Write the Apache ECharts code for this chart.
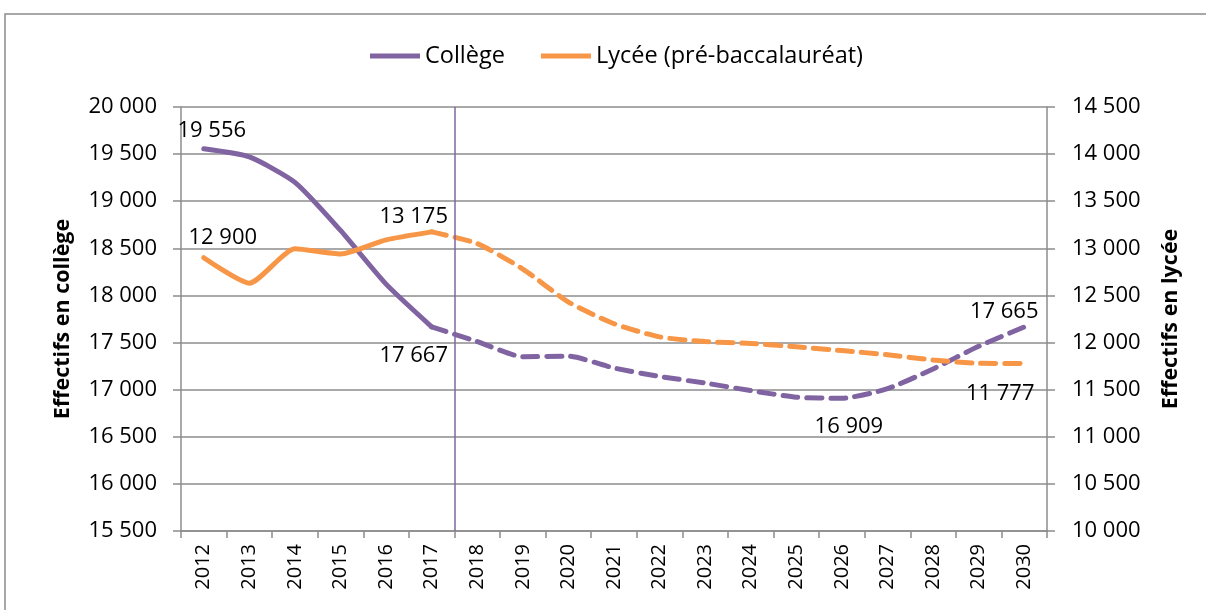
<!DOCTYPE html>
<html>
<head>
<meta charset="utf-8">
<script src="https://cdn.jsdelivr.net/npm/echarts@6/dist/echarts.min.js"></script>
<style>
  html, body { margin: 0; padding: 0; background: #fff; }
  #chart { width: 1206px; height: 610px; }
</style>
</head>
<body>
<div id="chart"></div>
<script>
const years = ['2012','2013','2014','2015','2016','2017','2018','2019','2020','2021',
  '2022','2023','2024','2025','2026','2027','2028','2029','2030']

// effectifs (observed to 2017, projected after)
const college = [19556, 19470, 19200, 18690, 18120, 17667, 17510, 17350, 17355, 17230,
  17140, 17070, 16990, 16920, 16909, 17010, 17220, 17460, 17665]
const lycee = [12900, 12630, 12995, 12940, 13090, 13175, 13050, 12780, 12430, 12200,
  12060, 12010, 11990, 11955, 11915, 11870, 11815, 11780, 11777]

const lastObserved = 5 // index of 2017
const splitPos = 6 // boundary between 2017 and 2018
const labelled = { college: [0, 5, 14, 18], lycee: [0, 5, 18] }

const PURPLE = '#8064A2'
const ORANGE = '#F79646'
const FONT = '"Open Sans", "Liberation Sans", sans-serif'

// per-point label offsets (px)
const labelOffsets = {
  college: { 0: [8, -2], 5: [-18, 13], 14: [7, 12], 18: [-20, 1] },
  lycee: { 0: [19, -4], 5: [-18, 1], 18: [-24, 14] },
}
const labelPos = {
  college: { 0: 'top', 5: 'bottom', 14: 'bottom', 18: 'top' },
  lycee: { 0: 'top', 5: 'top', 18: 'bottom' },
}

function fmt(v) {
  return String(v).replace(/\B(?=(\d{3})+(?!\d))/g, ' ')
}

function pointData(values, key, observed) {
  return values.map((v, i) => {
    const keep = observed ? i <= lastObserved : i >= lastObserved
    if (!keep) return null
    if (!labelled[key].includes(i)) return v
    if (!observed && i === lastObserved) return v
    return {
      value: v,
      label: {
        show: true,
        position: labelPos[key][i],
        offset: labelOffsets[key][i],
        formatter: (p) => fmt(p.value),
        color: '#000',
        fontSize: 22,
        fontFamily: FONT,
      },
    }
  })
}

function lineSeries(name, values, key, color, yIndex, observed) {
  return {
    name,
    type: 'line',
    yAxisIndex: yIndex,
    data: pointData(values, key, observed),
    symbol: 'circle',
    symbolSize: 0,
    showSymbol: true,
    smooth: 0.2,
    connectNulls: false,
    lineStyle: { color, width: 5, type: observed ? 'solid' : [15, 9], cap: 'round' },
    itemStyle: { color },
    z: 3,
  }
}

const chart = echarts.init(document.getElementById('chart'))

const axisGrey = '#8c8c8c'

chart.setOption({
  animation: false,
  graphic: [
    {
      type: 'rect',
      shape: { x: 5, y: 14, width: 1400, height: 800 },
      style: { fill: 'none', stroke: axisGrey, lineWidth: 1.5 },
      silent: true,
    },
  ],
  legend: {
    data: ['Collège', 'Lycée (pré-baccalauréat)'],
    top: 39,
    left: 365,
    itemWidth: 50,
    itemHeight: 5,
    itemGap: 36,
    icon: 'rect',
    textStyle: { fontSize: 23.5, color: '#000', fontFamily: FONT },
  },
  grid: { left: 181, right: 159, top: 107, bottom: 79 },
  xAxis: [
    {
      type: 'category',
      data: years,
      boundaryGap: true,
      axisLine: { lineStyle: { color: axisGrey, width: 1.5 } },
      axisTick: { show: true, length: 7, lineStyle: { color: axisGrey, width: 1.5 } },
      axisLabel: { rotate: 90, color: '#000', fontSize: 20, fontFamily: FONT, margin: 13 },
    },
    {
      type: 'value',
      min: 0,
      max: years.length,
      show: false,
    },
  ],
  yAxis: [
    {
      type: 'value',
      min: 15500,
      max: 20000,
      interval: 500,
      name: 'Effectifs en collège',
      nameLocation: 'middle',
      nameGap: 107,
      nameTextStyle: { fontSize: 21.5, fontWeight: 'bold', color: '#000', fontFamily: FONT },
      axisLine: { show: true, lineStyle: { color: axisGrey, width: 1.5 } },
      axisTick: { show: true, length: 8, lineStyle: { color: axisGrey, width: 1.5 } },
      axisLabel: { color: '#000', fontSize: 22, fontFamily: FONT, formatter: fmt, margin: 24 },
      splitLine: { lineStyle: { color: axisGrey, width: 1.5 } },
    },
    {
      type: 'value',
      min: 10000,
      max: 14500,
      interval: 500,
      position: 'right',
      name: 'Effectifs en lycée',
      nameLocation: 'middle',
      nameRotate: 90,
      nameGap: 113,
      nameTextStyle: { fontSize: 21.5, fontWeight: 'bold', color: '#000', fontFamily: FONT },
      axisLine: { show: true, lineStyle: { color: axisGrey, width: 1.5 } },
      axisTick: { show: true, length: 8, lineStyle: { color: axisGrey, width: 1.5 } },
      axisLabel: { color: '#000', fontSize: 22, fontFamily: FONT, formatter: fmt, margin: 25 },
      splitLine: { show: false },
    },
  ],
  series: [
    lineSeries('Collège', college, 'college', PURPLE, 0, true),
    lineSeries('Collège (projection)', college, 'college', PURPLE, 0, false),
    lineSeries('Lycée (pré-baccalauréat)', lycee, 'lycee', ORANGE, 1, true),
    lineSeries('Lycée (projection)', lycee, 'lycee', ORANGE, 1, false),
    {
      name: 'split',
      type: 'line',
      xAxisIndex: 1,
      data: [],
      markLine: {
        silent: true,
        symbol: 'none',
        label: { show: false },
        lineStyle: { color: PURPLE, width: 1.5, type: 'solid' },
        data: [{ xAxis: splitPos }],
      },
    },
  ],
})
</script>
</body>
</html>
